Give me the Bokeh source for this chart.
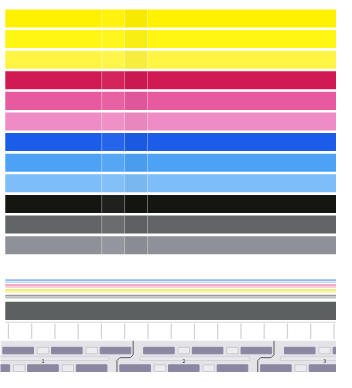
from bokeh.plotting import figure
from bokeh.models import ColumnDataSource, Range1d
from bokeh.core.properties import value
from bokeh.embed import file_html
from bokeh.resources import INLINE

# ---------------- data ----------------
band_names = ["Y1", "Y2", "Y3", "M1", "M2", "M3", "C1", "C2", "C3", "K1", "K2", "K3"]
band_colors = ["#fff200", "#fff614", "#fff542", "#d11a53", "#e75a9f", "#ef8cc5",
               "#1b5de8", "#4da2f6", "#7dbdf8", "#151512", "#626566", "#8e9197"]
line_names = ["C", "c", "M", "m", "Y", "y", "K", "k"]
line_colors = ["#8fb9f0", "#bcd6f5", "#ee92b2", "#f5bfd2", "#f3e64a", "#f7efa6", "#9a9b9d", "#bdbdbf"]
solid_names = ["K-solid"]
solid_colors = ["#5d6061"]
ticket_labels = ["1", "2", "3"]
cell_kinds = ["dark", "light", "dark", "light", "dark"]
kind_colors = {"dark": "#8a87a2", "light": "#ebebf0"}
kind_lines = {"dark": "#8a87a2", "light": "#c9c9d1"}
tick_count = 15

# ---------------- layout (pixels of the page picture) ----------------
X0, X1 = 5, 352
BAND_TOP, BAND_PITCH, BAND_H = 9.3, 21.5, 18.8
LINE_Y = [291.7, 293.9, 296.7, 298.9, 301.9, 304.0, 307.8, 310.0]
SOLID_TOP, SOLID_BOT = 314.3, 333.3
TICK_TOP, TICK_BOT, TICK_X0, TICK_STEP = 337, 353, 8.3, 24.36
GRAY_TOP = 355
TICKET_O0, TICKET_W = -8.5, 147.5
CELL_OFF = [(11, 43), (47, 59), (62, 94), (98, 110), (113, 145)]
ROWS = [(0, 361.7, 368.5), (-25, 380.0, 387.0)]

p = figure(width=336, height=372, x_range=Range1d(0, 352), y_range=Range1d(388, 0),
           output_backend="svg", toolbar_location=None, min_border=0,
           x_axis_location=None, y_axis_location=None, background_fill_color="white",
           border_fill_color="white")
p.grid.visible = False
p.outline_line_color = None

# colour bands
n = len(band_names)
tops = [BAND_TOP + BAND_PITCH * i for i in range(n)]
bots = [t + BAND_H for t in tops]
src = ColumnDataSource(dict(name=band_names, color=band_colors,
                            left=[X0] * n, right=[X1] * n, top=tops, bottom=bots))
p.quad(left="left", right="right", top="top", bottom="bottom", fill_color="color",
       line_color=None, source=src)

# scan overlap artefacts (on the bands only)
p.quad(left=[106] * n, right=[130] * n, top=tops, bottom=bots, fill_color="white",
       fill_alpha=0.05, line_color=None)
p.quad(left=[130] * n, right=[154] * n, top=tops, bottom=bots, fill_color="black",
       fill_alpha=0.03, line_color=None)
for xv in (106, 130, 154):
    p.segment(x0=[xv] * n, x1=[xv] * n, y0=tops, y1=bots, line_color="white",
              line_alpha=0.35, line_width=1)

# thin nozzle lines
m = len(line_names)
p.multi_line(xs=[[X0, X1]] * m, ys=[[y, y] for y in LINE_Y], line_color=line_colors,
             line_width=1.6)

# solid dark strip
p.quad(left=[X0], right=[X1], top=[SOLID_TOP], bottom=[SOLID_BOT], fill_color=solid_colors,
       line_color=None)
p.segment(x0=[X0], x1=[X1], y0=[335.5], y1=[335.5], line_color="#d6d6d6", line_width=1)

# tick marks area
tx = [TICK_X0 + TICK_STEP * i for i in range(tick_count)]
p.segment(x0=tx, x1=tx, y0=[TICK_TOP] * tick_count, y1=[TICK_BOT] * tick_count,
          line_color="#d2d2d4", line_width=1.2)

# ticket area
p.quad(left=[0], right=[352], top=[GRAY_TOP], bottom=[388], fill_color="#e3e3e8", line_color=None)

origins = [TICKET_O0 + TICKET_W * k for k in range(len(ticket_labels))]
cl, cr, ct, cb, cf, cln = [], [], [], [], [], []
for o in origins:
    for shift, ytop, ybot in ROWS:
        for kind, (a, b) in zip(cell_kinds, CELL_OFF):
            cl.append(o + shift + a); cr.append(o + shift + b)
            ct.append(ytop); cb.append(ybot)
            cf.append(kind_colors[kind]); cln.append(kind_lines[kind])
p.quad(left=cl, right=cr, top=ct, bottom=cb, fill_color=cf, line_color=cln, line_width=1)

# faint strips between rows
p.quad(left=[o + 7 for o in origins], right=[o + 122 for o in origins],
       top=[371.5] * 3, bottom=[375.5] * 3, fill_color="#e8e8ed", line_color="#d2d2d8",
       line_width=1)

# ticket boundaries
bxs, bys = [], []
for o in origins[1:]:
    ob = o - 17
    bxs.append([o, o, o - 3, ob + 3, ob, ob])
    bys.append([GRAY_TOP, 369.5, 372.5, 372.5, 375.5, 388])
p.multi_line(xs=bxs, ys=bys, line_color="#5a5a5e", line_width=1)

# ticket numbers
p.text(x=[o + 53 for o in origins], y=[376.5] * 3, text=ticket_labels,
       text_font=value("DejaVu Sans"), text_font_size="5px", text_color="#333333",
       text_align="center", text_baseline="middle")

open("out.html", "w").write(file_html(p, INLINE))
